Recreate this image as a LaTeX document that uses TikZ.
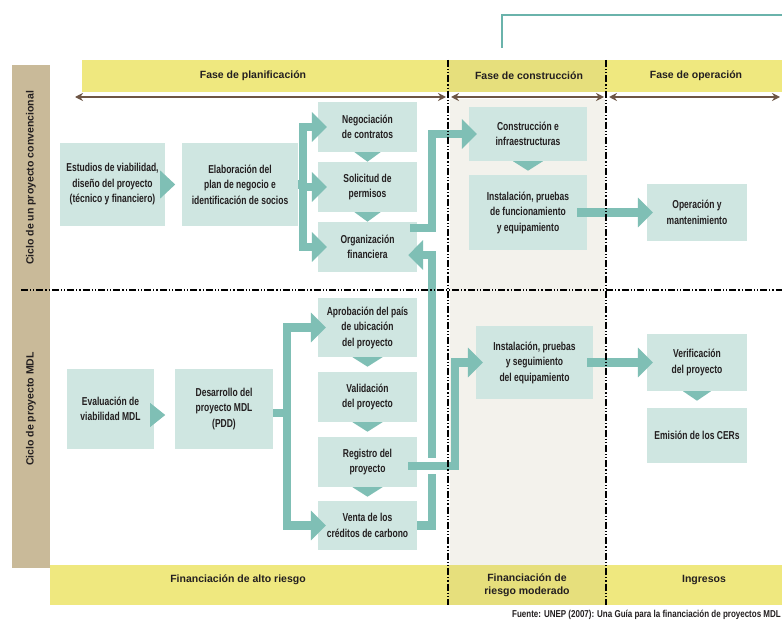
\documentclass[tikz,border=0pt]{standalone}
\usepackage{fontspec}
\setmainfont{Liberation Sans}
\newfontfamily\bxfont[FakeStretch=0.74]{Liberation Sans}
\newfontfamily\srcfont[FakeStretch=0.8]{Liberation Sans}
\usetikzlibrary{arrows.meta,calc}
\definecolor{boxc}{HTML}{CFE6E1}
\definecolor{arrc}{HTML}{7FBFB5}
\definecolor{linec}{HTML}{6AB3AB}
\definecolor{yel}{HTML}{EFE87F}
\definecolor{yeld}{HTML}{E6DF7C}
\definecolor{bandtan}{HTML}{C9BA99}
\definecolor{colg}{HTML}{F3F2EC}
\definecolor{brn}{HTML}{6D5545}
\definecolor{txt}{HTML}{231F20}
\newcommand{\dnTri}[2]{\fill[arrc] ($(#1.south)+(-#2,0)$) -- ($(#1.south)+(#2,0)$) -- ($(#1.south)+(0,9.5)$) -- cycle;}
\begin{document}
\begin{tikzpicture}[x=1pt,y=-1pt,
  bx/.style={fill=boxc, inner sep=1pt, align=center, text=txt,
    font=\bxfont\bfseries\fontsize{11.5}{15.5}\selectfont},
  hd/.style={text=txt, align=center, font=\bfseries\fontsize{10.5}{14}\selectfont},
  tl/.style={draw=arrc, line width=8.5pt, line join=miter},
  ah/.style={-{Triangle[length=15pt,width=29pt]}},
  dd/.style={draw=black, line width=1.1pt, dash pattern=on 7pt off 2pt on 1.2pt off 2pt on 1.2pt off 2pt},
  br/.style={draw=brn, line width=2.2pt, {Stealth[length=8pt,width=8pt]}-{Stealth[length=8pt,width=8pt]}}
]
\useasboundingbox (0,0) rectangle (782,623);
\fill[white] (0,0) rectangle (782,623);

% bands and background
\fill[yel] (82,60) rectangle (782,92);
\fill[yeld] (448,60) rectangle (606,92);
\fill[yel] (50,565) rectangle (782,605);
\fill[yeld] (448,565) rectangle (606,605);
\fill[bandtan] (12,65) rectangle (50,568);
\fill[colg] (450,99) rectangle (605,565);

% top teal line
\coordinate (tl1) at (502,48);
\coordinate (tl2) at (502,15);
\coordinate (tl3) at (785,15);
\draw[linec, line width=1.6pt] (tl1) -- (tl2) -- (tl3);

% brown phase arrows
\coordinate (b1) at (75,97);  \coordinate (b2) at (446,97);
\coordinate (b3) at (451,97); \coordinate (b4) at (604,97);
\coordinate (b5) at (609,97); \coordinate (b6) at (780,97);
\draw[br] (b1) -- (b2);
\draw[br] (b3) -- (b4);
\draw[br] (b5) -- (b6);

% boxes
\node[bx, minimum width=105pt, minimum height=83pt] (est) at (112.5,184.5) {Estudios de viabilidad,\\diseño del proyecto\\(técnico y financiero)};
\node[bx, minimum width=116pt, minimum height=83pt] (elab) at (240,184.5) {Elaboración del\\plan de negocio e\\identificación de socios};
\node[bx, minimum width=99pt, minimum height=50pt] (neg) at (367.5,127) {Negociación\\de contratos};
\node[bx, minimum width=99pt, minimum height=50pt] (sol) at (367.5,187) {Solicitud de\\permisos};
\node[bx, minimum width=99pt, minimum height=50pt] (org) at (367.5,247) {Organización\\financiera};
\node[bx, minimum width=118pt, minimum height=54pt] (con) at (528,134) {Construcción e\\infraestructuras};
\node[bx, minimum width=118pt, minimum height=75pt] (ins) at (528,212.5) {Instalación, pruebas\\de funcionamiento\\y equipamiento};
\node[bx, minimum width=100pt, minimum height=57pt] (ope) at (697,212.5) {Operación y\\mantenimiento};
\node[bx, minimum width=87pt, minimum height=80pt] (eva) at (110.5,409) {Evaluación de\\viabilidad MDL};
\node[bx, minimum width=98pt, minimum height=80pt] (des) at (224,409) {Desarrollo del\\proyecto MDL\\(PDD)};
\node[bx, minimum width=99pt, minimum height=59pt] (apr) at (367.5,327.5) {Aprobación del país\\de ubicación\\del proyecto};
\node[bx, minimum width=99pt, minimum height=50pt] (val) at (367.5,397) {Validación\\del proyecto};
\node[bx, minimum width=99pt, minimum height=50pt] (reg) at (367.5,462) {Registro del\\proyecto};
\node[bx, minimum width=99pt, minimum height=49pt] (ven) at (367.5,525.5) {Venta de los\\créditos de carbono};
\node[bx, minimum width=117pt, minimum height=73pt] (ins2) at (534.5,362.5) {Instalación, pruebas\\y seguimiento\\del equipamiento};
\node[bx, minimum width=100pt, minimum height=57pt] (ver) at (697,362.5) {Verificación\\del proyecto};
\node[bx, minimum width=100pt, minimum height=55pt] (emi) at (697,435.5) {Emisión de los CERs};

% small sequence triangles
\dnTri{neg}{13}
\dnTri{sol}{13}
\dnTri{con}{15}
\dnTri{apr}{15}
\dnTri{val}{15}
\dnTri{reg}{15}
\dnTri{ver}{14}
\fill[arrc] ($(est.east)+(-5,-14)$) -- ($(est.east)+(10,0)$) -- ($(est.east)+(-5,14)$) -- cycle;
\fill[arrc] ($(eva.east)+(-4,-6)$) -- ($(eva.east)+(11,6)$) -- ($(eva.east)+(-4,18)$) -- cycle;

% trunk coordinates
\coordinate (tA) at (303,0);
\coordinate (tB) at (287,0);
\coordinate (tC) at (432,0);
\coordinate (tD) at (455,0);

% upper planning branches
\draw[tl] (elab.east) -- (tA |- elab.east);
\draw[tl, line cap=rect] (tA |- neg.west) -- (tA |- org.west);
\foreach \n in {neg,sol,org} {\draw[tl,ah] (tA |- \n.west) -- ([xshift=9pt]\n.west);}

% lower planning branches
\coordinate (dout) at ($(des.east)+(0,4)$);
\draw[tl] (dout) -- (tB |- dout);
\draw[tl, line cap=rect] (tB |- apr.west) -- (tB |- ven.west);
\draw[tl,ah] (tB |- apr.west) -- ([xshift=8pt]apr.west);
\draw[tl,ah] (tB |- ven.west) -- ([xshift=8pt]ven.west);

% organisation -> construction
\coordinate (oout) at ($(org.east)+(-7,-19)$);
\draw[tl,ah] (oout) -- (tC |- oout) -- (tC |- con.west) -- ([xshift=8pt]con.west);

% sale of credits -> organisation
\coordinate (oin) at ($(org.east)+(-9,8)$);
\draw[tl,ah] (ven.east) -- (tC |- ven.east) -- (tC |- oin) -- (oin);

% registration -> installation (MDL)
\coordinate (rout) at ($(reg.east)+(-9,4)$);
\draw[white, line width=16pt] ($(tC |- rout)+(-6,0)$) -- ($(tC |- rout)+(6,0)$);
\draw[tl,ah] (rout) -- (tD |- rout) -- (tD |- ins2.west) -- ([xshift=7pt]ins2.west);

% construction phase -> operation phase
\draw[tl,ah] ([xshift=-10pt]ins.east) -- ([xshift=6pt]ope.west);
\draw[tl,ah] ([xshift=-6pt]ins2.east) -- ([xshift=6pt]ver.west);

% dash-dot separators
\coordinate (v1t) at (448,60);  \coordinate (v1b) at (448,605);
\coordinate (v2t) at (606,60);  \coordinate (v2b) at (606,605);
\coordinate (h1l) at (21,290);  \coordinate (h1r) at (782,290);
\draw[dd] (h1l) -- (h1r);
\draw[dd] (v1t) -- (v1b);
\draw[dd] (v2t) -- (v2b);

% band texts
\node[hd] (p1) at (253,76) {Fase de planificación};
\node[hd] (p2) at (529,76) {Fase de construcción};
\node[hd] (p3) at (696,76) {Fase de operación};
\node[hd] (f1) at (238,580) {Financiación de alto riesgo};
\node[hd, font=\bfseries\fontsize{10.5}{13}\selectfont] (f2) at (527,585) {Financiación de\\riesgo moderado};
\node[hd] (f3) at (704,580) {Ingresos};
\node[hd, rotate=90] (c1) at (31,178) {Ciclo de un proyecto convencional};
\node[hd, rotate=90] (c2) at (31,409) {Ciclo de proyecto MDL};

% source
\node[anchor=east, inner sep=0pt, text=txt, font=\srcfont\bfseries\fontsize{10}{12}\selectfont] (src) at (781,615) {Fuente: UNEP (2007): Una Guía para la financiación de proyectos MDL};
\end{tikzpicture}
\end{document}
